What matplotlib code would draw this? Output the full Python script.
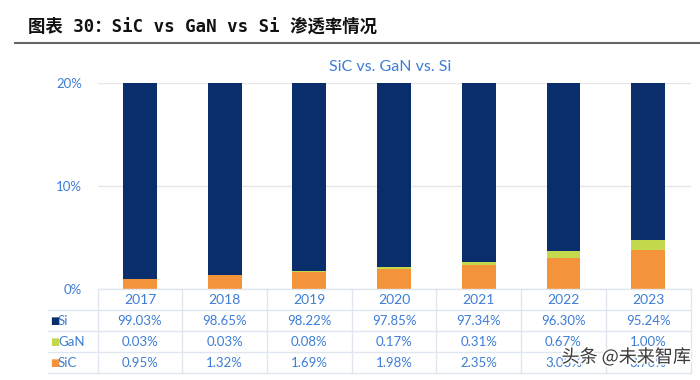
import matplotlib
matplotlib.use("Agg")
import matplotlib.pyplot as plt
import matplotlib.transforms as mtransforms
import matplotlib.patheffects as pe
from matplotlib.lines import Line2D
import numpy as np

years = ["2017", "2018", "2019", "2020", "2021", "2022", "2023"]
si = [99.03, 98.65, 98.22, 97.85, 97.34, 96.30, 95.24]
gan = [0.03, 0.03, 0.08, 0.17, 0.31, 0.67, 1.00]
sic = [0.95, 1.32, 1.69, 1.98, 2.35, 3.03, 3.76]
yticks = [0, 10, 20]

C_SI = "#0a2e6c"
C_GAN = "#c3d84a"
C_SIC = "#f4943a"
C_TXT = "#3d7dd6"
C_GRID = "#dfe6ef"

W, H = 700, 380
fig = plt.figure(figsize=(7, 3.8), dpi=100)

# pixel transform (origin top-left)
pix = mtransforms.Affine2D().scale(1 / W, -1 / H).translate(0, 1) + fig.transFigure

# main title
fig.text(28, 27, "图表 30：SiC vs GaN vs Si 渗透率情况", transform=pix,
         family=["DejaVu Sans Mono", "Noto Sans CJK SC"], fontweight="bold",
         fontsize=12.5, va="center", ha="left", color="#111111")
fig.add_artist(Line2D([15, 700], [43, 43], transform=pix, color="#666666", lw=1.5))

# chart title
fig.text(390, 67, "SiC vs. GaN vs. Si", transform=pix, family="Lato",
         fontsize=11.5, color=C_TXT, ha="center", va="center")

# bar axes
left, right, top, bottom = 97.6, 690.5, 83, 289
ax = fig.add_axes([left / W, 1 - bottom / H, (right - left) / W, (bottom - top) / H])
x = np.arange(len(years))
bw = 0.4
ax.bar(x, sic, bw, color=C_SIC, zorder=3)
ax.bar(x, gan, bw, bottom=sic, color=C_GAN, zorder=3)
ax.bar(x, si, bw, bottom=np.array(sic) + np.array(gan), color=C_SI, zorder=3)
ax.set_xlim(-0.5, len(years) - 0.5)
ax.set_ylim(0, 20)
ax.set_yticks(yticks)
ax.set_yticklabels([f"{v}%" for v in yticks], family="Lato", fontsize=9.5, color=C_TXT)
ax.tick_params(axis="y", length=0, pad=11)
ax.tick_params(axis="x", length=0, labelbottom=False)
for s in ax.spines.values():
    s.set_visible(False)
ax.yaxis.grid(True, color="#e6e6e6", lw=1, zorder=0)

# table
bl = mtransforms.blended_transform_factory(ax.transData, pix)
row_y = [289, 310, 331, 352, 373]
edges = np.arange(len(years) + 1) - 0.5
tcol = C_GRID
fig.add_artist(Line2D([edges[0], edges[-1]], [row_y[0], row_y[0]], transform=bl, color=tcol, lw=1))
for yy in row_y[1:]:
    fig.add_artist(Line2D([48, right], [yy, yy], transform=pix, color=tcol, lw=1))
for e in edges:
    fig.add_artist(Line2D([e, e], [row_y[0], row_y[-1]], transform=bl, color=tcol, lw=1))

for i, yr in enumerate(years):
    fig.text(i, (row_y[0] + row_y[1]) / 2 + 0.5, yr, transform=bl, family="Lato",
             fontsize=10, color=C_TXT, ha="center", va="center")

series = [("Si", si, C_SI), ("GaN", gan, C_GAN), ("SiC", sic, C_SIC)]
for r, (name, vals, col) in enumerate(series):
    yc = (row_y[r + 1] + row_y[r + 2]) / 2 + 0.5
    fig.text(50, yc, "■", transform=pix, family="DejaVu Sans", fontsize=7,
             color=col, ha="left", va="center")
    fig.text(58, yc, name, transform=pix, family="Lato", fontsize=9.5,
             color=C_TXT, ha="left", va="center")
    for i, v in enumerate(vals):
        fig.text(i, yc, f"{v:.2f}%", transform=bl, family="Lato", fontsize=9.5,
                 color=C_TXT, ha="center", va="center")

# watermark (as in the reference, it sits over the table)
fig.text(626, 357, "头条 @未来智库", transform=pix, family="Noto Sans CJK SC",
         fontsize=13, color="#2a2a2a", ha="center", va="center", alpha=0.9,
         path_effects=[pe.withStroke(linewidth=2.5, foreground="white")])

fig.savefig("out.png", dpi=100)
